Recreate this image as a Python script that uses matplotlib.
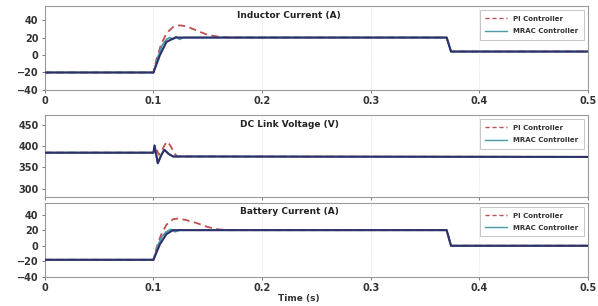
import matplotlib
matplotlib.use("Agg")
import matplotlib.pyplot as plt
from matplotlib.lines import Line2D

# ---- data ----
# Inductor current (A)
ind_t_pi = [0, 0.1, 0.103, 0.107, 0.112, 0.118, 0.124, 0.13, 0.14, 0.15, 0.16, 0.17, 0.37, 0.374, 0.5]
ind_pi = [-20, -20, -4, 12, 25, 32, 34, 33, 28, 23, 21, 20, 20, 4, 4]
ind_t_mrac = [0, 0.1, 0.104, 0.108, 0.112, 0.115, 0.118, 0.121, 0.124, 0.128, 0.135, 0.37, 0.374, 0.5]
ind_mrac = [-20, -20, -3, 11, 18, 20, 18, 21, 18, 20, 20, 20, 4, 4]
ind_t_ref = [0, 0.1, 0.106, 0.112, 0.12, 0.37, 0.374, 0.5]
ind_ref = [-20, -20, 0, 15, 20, 20, 4, 4]

# DC link voltage (V)
dc_t_pi = [0, 0.1, 0.102, 0.105, 0.108, 0.111, 0.113, 0.116, 0.119, 0.122, 0.5]
dc_pi = [385, 385, 398, 380, 392, 406, 411, 400, 384, 376, 375]
dc_t_mrac = [0, 0.1, 0.101, 0.104, 0.107, 0.11, 0.114, 0.118, 0.5]
dc_mrac = [385, 385, 402, 360, 378, 392, 382, 376, 375]

# Battery current (A)
bat_t_pi = [0, 0.1, 0.103, 0.107, 0.112, 0.118, 0.123, 0.13, 0.14, 0.15, 0.16, 0.17, 0.37, 0.374, 0.5]
bat_pi = [-18, -18, -2, 14, 27, 34, 35, 33, 29, 24, 21, 20, 20, 0, 0]
bat_t_mrac = [0, 0.1, 0.104, 0.108, 0.112, 0.116, 0.12, 0.124, 0.13, 0.37, 0.374, 0.5]
bat_mrac = [-18, -18, 0, 12, 18, 21, 18, 20, 20, 20, 0, 0]
bat_t_ref = [0, 0.1, 0.106, 0.112, 0.118, 0.37, 0.374, 0.5]
bat_ref = [-18, -18, 2, 15, 20, 20, 0, 0]

x_ticks = [0, 0.1, 0.2, 0.3, 0.4, 0.5]
x_ticklabels = ["0", "0.1", "0.2", "0.3", "0.4", "0.5"]

PI_COLOR = "#c0504d"
MRAC_COLOR = "#4a9aa8"
REF_COLOR = "#2e2f6b"

fig = plt.figure(figsize=(5.98, 3.06), dpi=100)
fig.patch.set_facecolor("white")

ax1 = fig.add_axes([0.075, 0.706, 0.908, 0.274])
ax2 = fig.add_axes([0.075, 0.356, 0.908, 0.268])
ax3 = fig.add_axes([0.075, 0.095, 0.908, 0.242])

panels = [
    (ax1, "Inductor Current (A)", (ind_t_pi, ind_pi), (ind_t_mrac, ind_mrac), (ind_t_ref, ind_ref),
     (-40, 56), [-40, -20, 0, 20, 40], True),
    (ax2, "DC Link Voltage (V)", (dc_t_pi, dc_pi), (dc_t_mrac, dc_mrac), (dc_t_mrac, dc_mrac),
     (280, 474), [300, 350, 400, 450], False),
    (ax3, "Battery Current (A)", (bat_t_pi, bat_pi), (bat_t_mrac, bat_mrac), (bat_t_ref, bat_ref),
     (-40, 55), [-40, -20, 0, 20, 40], True),
]

for ax, title, pi, mrac, ref, ylim, yticks, show_x in panels:
    ax.plot(pi[0], pi[1], color=PI_COLOR, lw=1.3, ls=(0, (4, 2.5)), zorder=2)
    ax.plot(mrac[0], mrac[1], color=MRAC_COLOR, lw=1.3, zorder=3)
    ax.plot(ref[0], ref[1], color=REF_COLOR, lw=1.5, zorder=4)

    ax.set_xlim(0, 0.5)
    ax.set_ylim(*ylim)
    ax.set_yticks(yticks)
    ax.set_xticks(x_ticks)
    if show_x:
        ax.set_xticklabels(x_ticklabels)
    else:
        ax.set_xticklabels([])
    ax.grid(axis="x", color="#d8d8d8", lw=0.6, ls=":")
    ax.tick_params(labelsize=7, length=2.5, width=0.6, color="#666666", labelcolor="#333333", pad=2)
    for lab in ax.get_xticklabels() + ax.get_yticklabels():
        lab.set_fontweight("bold")
    for sp in ax.spines.values():
        sp.set_color("#999999")
        sp.set_linewidth(0.8)

    ax.text(0.45, 0.94, title, transform=ax.transAxes, ha="center", va="top",
            fontsize=6.5, fontweight="bold", color="#222222")

    handles = [Line2D([], [], color=PI_COLOR, lw=1, ls=(0, (3, 2))),
               Line2D([], [], color=MRAC_COLOR, lw=1)]
    leg = ax.legend(handles, ["PI Controller", "MRAC Controller"], loc="upper right",
                    fontsize=5, frameon=True, fancybox=False, handlelength=3.2,
                    borderpad=0.8, labelspacing=0.9, borderaxespad=0.6)
    leg.get_frame().set_edgecolor("#aaaaaa")
    leg.get_frame().set_linewidth(0.6)
    for t in leg.get_texts():
        t.set_fontweight("bold")
        t.set_color("#333333")

fig.text(0.50, 0.025, "Time (s)", ha="center", va="center", fontsize=6.5,
         fontweight="bold", color="#333333")

fig.savefig("out.png", dpi=100, facecolor="white")
